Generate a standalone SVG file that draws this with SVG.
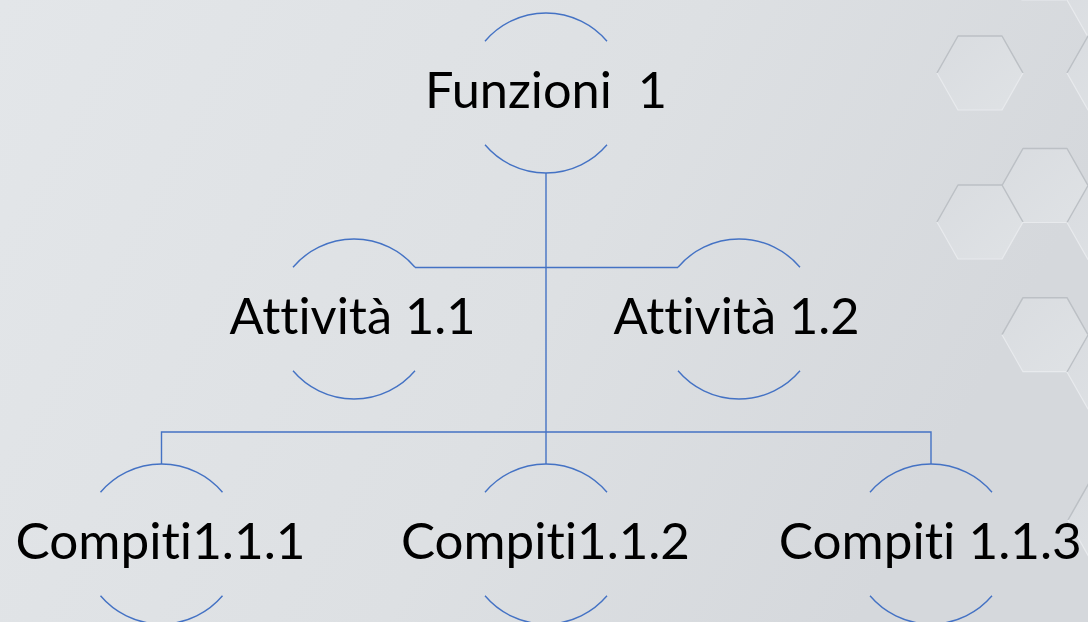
<svg xmlns="http://www.w3.org/2000/svg" xmlns:xlink="http://www.w3.org/1999/xlink" width="1088" height="622" viewBox="0 0 1088 622">
  <style>
    .lbl { font-family: Lato, "Open Sans", "Liberation Sans", sans-serif; font-size: 50px; fill: #000000; text-anchor: middle; white-space: pre; font-variant-ligatures: none; font-feature-settings: "liga" 0, "clig" 0, "dlig" 0; }
    .arc { fill: none; stroke: #4472C4; stroke-width: 1.4; }
    .conn { fill: none; stroke: #4472C4; stroke-width: 1.4; }
    .hexfill { fill: url(#hexGrad); stroke: none; }
    .hexshade { fill: none; stroke: #bcc0c5; stroke-width: 1.5; stroke-linejoin: round; }
    .hexlight { fill: none; stroke: #e8eaed; stroke-width: 1.2; stroke-linejoin: round; }
  </style>
  <defs>
    <linearGradient id="bg" x1="0" y1="0" x2="1" y2="0.3">
      <stop offset="0" stop-color="#e3e6e9"/>
      <stop offset="0.6" stop-color="#dde0e3"/>
      <stop offset="1" stop-color="#d5d8dc"/>
    </linearGradient>
    <linearGradient id="hexGrad" x1="0" y1="0" x2="1" y2="1">
      <stop offset="0" stop-color="#d9dce0"/>
      <stop offset="1" stop-color="#dfe2e5"/>
    </linearGradient>
    <g id="hex">
      <polygon class="hexfill" points="-22,-37 22,-37 43,0 22,37 -22,37 -43,0"/>
      <polyline class="hexshade" points="-43,0 -22,-37 22,-37 43,0"/>
      <polyline class="hexlight" points="43,0 22,37 -22,37 -43,0"/>
    </g>
    <g id="ring">
      <path class="arc" d="M-61,-51.8 A80,80 0 0 1 61,-51.8"/>
      <path class="arc" d="M-61,51.8 A80,80 0 0 0 61,51.8"/>
    </g>
  </defs>

  <rect x="0" y="0" width="1088" height="622" fill="url(#bg)"/>

  <g id="background-hexagons">
    <use xlink:href="#hex" href="#hex" x="1044" y="-37"/>
    <use xlink:href="#hex" href="#hex" x="1110" y="0"/>
    <use xlink:href="#hex" href="#hex" x="980" y="73"/>
    <use xlink:href="#hex" href="#hex" x="1110" y="73"/>
    <use xlink:href="#hex" href="#hex" x="1045" y="185.5"/>
    <use xlink:href="#hex" href="#hex" x="980" y="222"/>
    <use xlink:href="#hex" href="#hex" x="1110" y="222.5"/>
    <use xlink:href="#hex" href="#hex" x="1045" y="334.7"/>
    <use xlink:href="#hex" href="#hex" x="1110" y="372"/>
    <use xlink:href="#hex" href="#hex" x="1111" y="520"/>
  </g>

  <g id="connectors">
    <line class="conn" x1="546" y1="173" x2="546" y2="464"/>
    <line class="conn" x1="415" y1="267.5" x2="678" y2="267.5"/>
    <polyline class="conn" points="161.5,464 161.5,432 931,432 931,464"/>
  </g>

  <g id="node-funzioni-1">
    <use xlink:href="#ring" href="#ring" x="546" y="93"/>
    <text class="lbl" x="546" y="108" textLength="242" lengthAdjust="spacingAndGlyphs" xml:space="preserve">Funzioni  1</text>
  </g>

  <g id="node-attivita-1-1">
    <use xlink:href="#ring" href="#ring" x="354" y="319"/>
    <text class="lbl" x="352.5" y="334" textLength="246" lengthAdjust="spacingAndGlyphs">Attività 1.1</text>
  </g>

  <g id="node-attivita-1-2">
    <use xlink:href="#ring" href="#ring" x="739" y="319"/>
    <text class="lbl" x="736.5" y="334" textLength="246" lengthAdjust="spacingAndGlyphs">Attività 1.2</text>
  </g>

  <g id="node-compiti-1-1-1">
    <use xlink:href="#ring" href="#ring" x="161.5" y="544"/>
    <text class="lbl" x="160.5" y="559" textLength="290" lengthAdjust="spacingAndGlyphs">Compiti1.1.1</text>
  </g>

  <g id="node-compiti-1-1-2">
    <use xlink:href="#ring" href="#ring" x="546" y="544"/>
    <text class="lbl" x="545.5" y="559" textLength="289" lengthAdjust="spacingAndGlyphs">Compiti1.1.2</text>
  </g>

  <g id="node-compiti-1-1-3">
    <use xlink:href="#ring" href="#ring" x="931" y="544"/>
    <text class="lbl" x="930.3" y="559" textLength="303" lengthAdjust="spacingAndGlyphs">Compiti 1.1.3</text>
  </g>
</svg>
